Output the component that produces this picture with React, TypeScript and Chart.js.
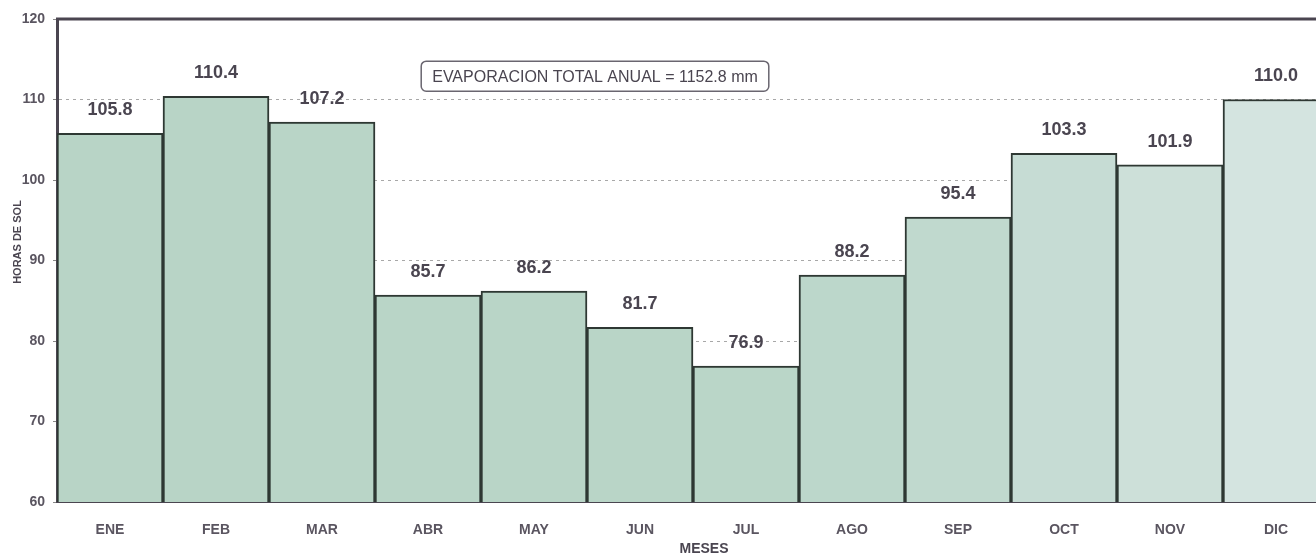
import React, { useEffect, useRef } from "react";
import { Chart, registerables } from "chart.js";

Chart.register(...registerables);

const months = ["ENE", "FEB", "MAR", "ABR", "MAY", "JUN", "JUL", "AGO", "SEP", "OCT", "NOV", "DIC"];
const horasSol = [105.8, 110.4, 107.2, 85.7, 86.2, 81.7, 76.9, 88.2, 95.4, 103.3, 101.9, 110.0];
const barColors = [
  "#b8d4c6", "#b8d4c6", "#b9d5c7", "#b9d5c7", "#b9d5c7", "#b9d5c7", "#bad6c8",
  "#bcd7cb", "#c0d9ce", "#c6dcd4", "#cde0d9", "#d4e4e0",
];
const annotationText = "EVAPORACION TOTAL ANUAL = 1152.8 mm";
const yTitle = "HORAS DE SOL";
const xTitle = "MESES";

const FONT = "'Liberation Sans', Arial, sans-serif";
const INK = "#4a4550";
const TICK_INK = "#5a5560";

const decorPlugin = {
  id: "decor",
  afterDatasetsDraw(chart: any) {
    const { ctx, chartArea } = chart;
    const meta = chart.getDatasetMeta(0);
    ctx.save();
    // value labels
    ctx.font = `bold 18px ${FONT}`;
    ctx.fillStyle = INK;
    ctx.textAlign = "center";
    ctx.textBaseline = "middle";
    meta.data.forEach((bar: any, i: number) => {
      ctx.fillText(horasSol[i].toFixed(1), bar.x, bar.y - 23);
    });
    // top border
    ctx.strokeStyle = INK;
    ctx.lineWidth = 3;
    ctx.beginPath();
    ctx.moveTo(chartArea.left - 1, chartArea.top);
    ctx.lineTo(chartArea.right + 20, chartArea.top);
    ctx.stroke();
    // annotation box
    const xs = chart.scales.x;
    const ys = chart.scales.y;
    const cx = xs.getPixelForValue(4.5) + 8;
    const cy = ys.getPixelForValue(112.9);
    ctx.font = `16px ${FONT}`;
    const tw = ctx.measureText(annotationText).width;
    const w = tw + 22;
    const h = 30;
    const bx = cx - w / 2;
    const by = cy - h / 2;
    ctx.fillStyle = "#ffffff";
    ctx.strokeStyle = "#6a6670";
    ctx.lineWidth = 1.5;
    ctx.beginPath();
    (ctx as any).roundRect(bx, by, w, h, 5);
    ctx.fill();
    ctx.stroke();
    ctx.fillStyle = INK;
    ctx.textAlign = "center";
    ctx.fillText(annotationText, cx, cy + 1);
    // y axis title
    ctx.save();
    ctx.translate(18, ys.getPixelForValue(92.3));
    ctx.rotate(-Math.PI / 2);
    ctx.font = `bold 11px ${FONT}`;
    ctx.fillStyle = INK;
    ctx.textAlign = "center";
    ctx.textBaseline = "middle";
    ctx.fillText(yTitle, 0, 0);
    ctx.restore();
    // x axis title
    ctx.font = `bold 14px ${FONT}`;
    ctx.fillStyle = INK;
    ctx.textAlign = "center";
    ctx.textBaseline = "middle";
    ctx.fillText(xTitle, xs.getPixelForValue(6) - 42, 549);
    ctx.restore();
  },
};

export default function App() {
  const ref = useRef<HTMLCanvasElement | null>(null);
  useEffect(() => {
    if (!ref.current) return;
    const chart = new Chart(ref.current, {
      type: "bar",
      data: {
        labels: months,
        datasets: [
          {
            data: horasSol,
            backgroundColor: barColors,
            borderColor: "#2e3833",
            borderWidth: 2,
            borderSkipped: false,
            barPercentage: 1,
            categoryPercentage: 1,
          },
        ],
      },
      options: {
        animation: false,
        responsive: false,
        maintainAspectRatio: false,
        layout: { padding: { top: 19, right: 11, left: 0, bottom: 0 } },
        plugins: {
          legend: { display: false },
          tooltip: { enabled: false },
        },
        scales: {
          x: {
            afterFit(scale: any) {
              scale.height = 53;
            },
            grid: { display: false, drawTicks: false },
            border: { display: true, color: INK, width: 2 },
            ticks: {
              color: TICK_INK,
              font: { family: FONT, size: 14, weight: "bold" },
              padding: 20,
              maxRotation: 0,
            },
          },
          y: {
            min: 60,
            max: 120,
            afterFit(scale: any) {
              scale.width = 57;
            },
            ticks: {
              stepSize: 10,
              color: TICK_INK,
              font: { family: FONT, size: 14, weight: "bold" },
              padding: 8,
            },
            grid: {
              color: (c: any) => (c.tick && (c.tick.value === 60 || c.tick.value === 120) ? "rgba(0,0,0,0)" : "#a8a8a8"),
              lineWidth: 1,
              tickLength: 4,
              tickColor: "#888",
            },
            border: { display: true, color: INK, width: 3, dash: [3, 4] },
          },
        },
      },
      plugins: [decorPlugin],
    } as any);
    return () => chart.destroy();
  }, []);
  return (
    <div style={{ position: "absolute", left: 0, top: 0, width: 1316, height: 555, overflow: "hidden", background: "#fff" }}>
      <canvas ref={ref} width={1340} height={555} style={{ display: "block", width: 1340, height: 555 }} />
    </div>
  );
}
